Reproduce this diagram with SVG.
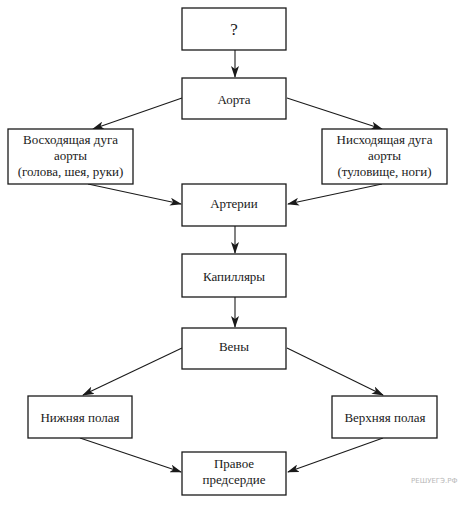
<svg xmlns="http://www.w3.org/2000/svg" width="458" height="507" viewBox="0 0 458 507">
<style>
.box{fill:#fff;stroke:#1a1a1a;stroke-width:1.3}
.t{font-size:13px;fill:#1a1a1a;text-anchor:middle}
.c{stroke:#1a1a1a;stroke-width:1.1;fill:none;marker-end:url(#ah)}
.wm{font-size:7px;fill:#b8b8b8}
</style>
<defs>
<marker id="ah" markerWidth="12" markerHeight="8" refX="11" refY="4" orient="auto" markerUnits="userSpaceOnUse">
<path d="M0,0 L12,4 L0,8 L3,4 z" fill="#1a1a1a"/>
</marker>
</defs>
<rect width="458" height="507" fill="#fff"/>
<g id="connectors">
<line class="c" x1="235" y1="50" x2="235" y2="77"/>
<line class="c" x1="182" y1="98" x2="93" y2="129"/>
<line class="c" x1="287" y1="98" x2="382" y2="129"/>
<line class="c" x1="88" y1="184" x2="181" y2="204"/>
<line class="c" x1="382" y1="184" x2="288" y2="204"/>
<line class="c" x1="235" y1="226" x2="235" y2="253"/>
<line class="c" x1="235" y1="297" x2="235" y2="327"/>
<line class="c" x1="182" y1="348" x2="83" y2="395"/>
<line class="c" x1="287" y1="348" x2="383" y2="395"/>
<line class="c" x1="80" y1="438" x2="181" y2="472"/>
<line class="c" x1="383" y1="438" x2="288" y2="472"/>
</g>
<g font-family="Liberation Serif, Times New Roman, serif">
<g id="n-question">
<rect class="box" x="182" y="8" width="104" height="42"/>
<text class="t" x="234" y="35" style="font-size:17px">?</text>
</g>
<g id="n-aorta">
<rect class="box" x="182" y="78" width="104" height="41"/>
<text class="t" x="234" y="104">Аорта</text>
</g>
<g id="n-ascending">
<rect class="box" x="8" y="129" width="125" height="55"/>
<text class="t" x="70.500" y="144">Восходящая дуга</text>
<text class="t" x="70.500" y="160">аорты</text>
<text class="t" x="70.500" y="176">(голова, шея, руки)</text>
</g>
<g id="n-descending">
<rect class="box" x="322" y="129" width="125" height="55"/>
<text class="t" x="384.500" y="144">Нисходящая дуга</text>
<text class="t" x="384.500" y="160">аорты</text>
<text class="t" x="384.500" y="176">(туловище, ноги)</text>
</g>
<g id="n-arteries">
<rect class="box" x="182" y="184" width="104" height="42"/>
<text class="t" x="234" y="208">Артерии</text>
</g>
<g id="n-capillaries">
<rect class="box" x="182" y="254" width="104" height="43"/>
<text class="t" x="234" y="281">Капилляры</text>
</g>
<g id="n-veins">
<rect class="box" x="182" y="328" width="104" height="41"/>
<text class="t" x="234" y="351">Вены</text>
</g>
<g id="n-lower">
<rect class="box" x="28" y="396" width="104" height="42"/>
<text class="t" x="80" y="422">Нижняя полая</text>
</g>
<g id="n-upper">
<rect class="box" x="332" y="396" width="105" height="42"/>
<text class="t" x="385" y="422">Верхняя полая</text>
</g>
<g id="n-atrium">
<rect class="box" x="182" y="452" width="104" height="43"/>
<text class="t" x="234" y="468">Правое</text>
<text class="t" x="234" y="484">предсердие</text>
</g>
</g>
<text class="wm" x="411" y="483" font-family="DejaVu Sans, sans-serif">РЕШУЕГЭ.РФ</text>
</svg>
